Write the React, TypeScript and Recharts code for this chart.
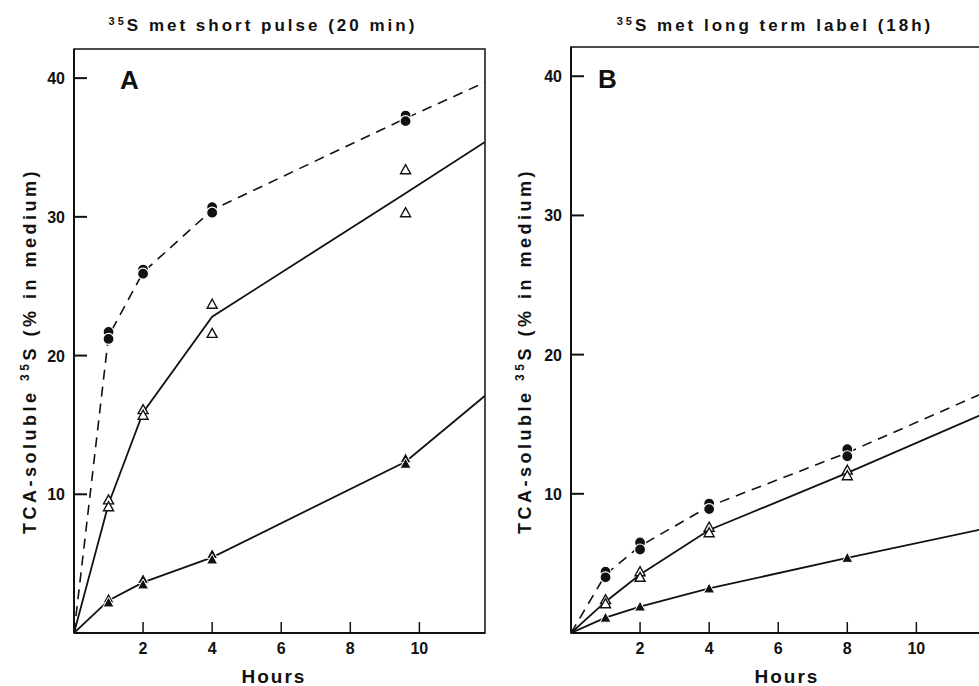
import React from "react";
import {
  ComposedChart,
  Line,
  Scatter,
  XAxis,
  YAxis,
  ReferenceArea,
} from "recharts";

// ---- panel A: short pulse (20 min) ----
const lineHoursA = [0, 1, 2, 4, 9.6, 11.9];
const fitCirclesA = [0, 21.4, 26.0, 30.5, 37.1, 39.7];
const fitOpenA = [0, 9.3, 15.9, 22.8, 31.7, 35.4];
const fitFilledA = [0, 2.35, 3.65, 5.45, 12.35, 17.1];

const sampleHoursA = [1, 2, 4, 9.6];
const circlesA1 = [21.7, 26.2, 30.7, 37.3];
const circlesA2 = [21.2, 25.9, 30.3, 36.9];
const openA1 = [9.6, 16.1, 23.7, 33.4];
const openA2 = [9.1, 15.7, 21.6, 30.3];
const filledA1 = [2.5, 3.9, 5.7, 12.6];
const filledA2 = [2.2, 3.5, 5.3, 12.2];

// ---- panel B: long term label (18h) ----
const lineHoursB = [0, 1, 2, 4, 8, 11.9];
const fitCirclesB = [0, 4.2, 6.25, 9.1, 12.95, 17.2];
const fitOpenB = [0, 2.25, 4.2, 7.4, 11.5, 15.7];
const fitFilledB = [0, 1.1, 1.9, 3.2, 5.4, 7.45];

const sampleHoursB = [1, 2, 4, 8];
const circlesB1 = [4.4, 6.5, 9.3, 13.2];
const circlesB2 = [4.0, 6.0, 8.9, 12.7];
const openB1 = [2.4, 4.4, 7.6, 11.7];
const openB2 = [2.1, 4.0, 7.2, 11.3];
const filledB1 = [1.1, 1.9, 3.2, 5.4];

const xTicks = [2, 4, 6, 8, 10];
const yTicks = [10, 20, 30, 40];
const xMax = 11.9;
const yMax = 42.1;

const INK = "#111";
const FONT = "'Liberation Sans', Arial, sans-serif";

const pts = (xs: number[], ys: number[]) => xs.map((x, i) => ({ x, y: ys[i] }));

const FilledCircle = (p: any) => (
  <circle cx={p.cx} cy={p.cy} r={5.5} fill={INK} stroke="#fff" strokeWidth={1.2} />
);
const OpenTriangle = (p: any) => (
  <polygon
    points={`${p.cx - 5},${p.cy + 4} ${p.cx + 5},${p.cy + 4} ${p.cx},${p.cy - 5}`}
    fill="#fff"
    stroke={INK}
    strokeWidth={1.4}
  />
);
const FilledTriangle = (p: any) => (
  <polygon
    points={`${p.cx - 5.5},${p.cy + 4.5} ${p.cx + 5.5},${p.cy + 4.5} ${p.cx},${p.cy - 5.5}`}
    fill={INK}
    stroke="#fff"
    strokeWidth={1}
  />
);
// inward tick mark on the y axis, drawn at (0, tick value)
const InwardTick = (p: any) => (
  <line x1={p.cx} x2={p.cx + 13} y1={p.cy} y2={p.cy} stroke={INK} strokeWidth={2} />
);

const YTick = (p: any) => (
  <text x={Number(p.x)} y={Number(p.y) + 6} textAnchor="end" fontSize={16} fontWeight={700} fontFamily={FONT} fill={INK}>
    {p.payload.value}
  </text>
);

const XTick = (p: any) => {
  const x = Number(p.x);
  const y = Number(p.y);
  return (
    <g>
      <line x1={x} x2={x} y1={y} y2={y - 11} stroke={INK} strokeWidth={1.5} />
      <text x={x} y={y + 21} textAnchor="middle" fontSize={16} fontWeight={700} fontFamily={FONT} fill={INK}>
        {p.payload.value}
      </text>
    </g>
  );
};

type PanelProps = {
  left: number;
  width: number;
  margin: { top: number; right: number; bottom: number; left: number };
  lineHours: number[];
  fitCircles: number[];
  fitOpen: number[];
  fitFilled: number[];
  circles: number[][];
  open: number[][];
  filled: number[][];
  sampleHours: number[];
};

function Panel(props: PanelProps) {
  const { lineHours, sampleHours } = props;
  return (
    <div style={{ position: "absolute", left: props.left, top: 0 }}>
      <ComposedChart width={props.width} height={686} margin={props.margin}>
        <XAxis
          type="number"
          dataKey="x"
          domain={[0, xMax]}
          ticks={xTicks}
          interval={0}
          allowDataOverflow
          height={30}
          tickSize={0}
          tickMargin={0}
          tickLine={false}
          tick={<XTick />}
          axisLine={{ stroke: INK, strokeWidth: 2 }}
        />
        <YAxis
          type="number"
          dataKey="y"
          domain={[0, yMax]}
          ticks={yTicks}
          interval={0}
          allowDataOverflow
          width={40}
          tickSize={0}
          tickMargin={9}
          tickLine={false}
          tick={<YTick />}
          axisLine={{ stroke: INK, strokeWidth: 2 }}
        />
        <ReferenceArea x1={0} x2={xMax} y1={0} y2={yMax} fill="none" stroke={INK} strokeWidth={1.5} />
        <Scatter data={yTicks.map((t) => ({ x: 0, y: t }))} shape={InwardTick} isAnimationActive={false} />
        <Line
          data={pts(lineHours, props.fitCircles)}
          dataKey="y"
          stroke={INK}
          strokeWidth={1.6}
          strokeDasharray="10 7"
          dot={false}
          isAnimationActive={false}
        />
        <Line
          data={pts(lineHours, props.fitOpen)}
          dataKey="y"
          stroke={INK}
          strokeWidth={1.8}
          dot={false}
          isAnimationActive={false}
        />
        <Line
          data={pts(lineHours, props.fitFilled)}
          dataKey="y"
          stroke={INK}
          strokeWidth={1.8}
          dot={false}
          isAnimationActive={false}
        />
        {props.circles.map((ys, i) => (
          <Scatter key={"c" + i} data={pts(sampleHours, ys)} shape={FilledCircle} isAnimationActive={false} />
        ))}
        {props.open.map((ys, i) => (
          <Scatter key={"o" + i} data={pts(sampleHours, ys)} shape={OpenTriangle} isAnimationActive={false} />
        ))}
        {props.filled.map((ys, i) => (
          <Scatter key={"f" + i} data={pts(sampleHours, ys)} shape={FilledTriangle} isAnimationActive={false} />
        ))}
      </ComposedChart>
    </div>
  );
}

const textStyle = { fontFamily: FONT, fontWeight: 700, fill: INK } as const;

export default function App() {
  return (
    <div style={{ position: "fixed", left: 0, top: 0, width: 979, height: 686, overflow: "hidden", background: "#fff" }}>
      <Panel
        left={0}
        width={490}
        margin={{ top: 49, right: 5, bottom: 23, left: 34 }}
        lineHours={lineHoursA}
        fitCircles={fitCirclesA}
        fitOpen={fitOpenA}
        fitFilled={fitFilledA}
        sampleHours={sampleHoursA}
        circles={[circlesA1, circlesA2]}
        open={[openA1, openA2]}
        filled={[filledA1, filledA2]}
      />
      <Panel
        left={490}
        width={500}
        margin={{ top: 47, right: 8, bottom: 23, left: 41 }}
        lineHours={lineHoursB}
        fitCircles={fitCirclesB}
        fitOpen={fitOpenB}
        fitFilled={fitFilledB}
        sampleHours={sampleHoursB}
        circles={[circlesB1, circlesB2]}
        open={[openB1, openB2]}
        filled={[filledB1]}
      />
      <svg width={979} height={686} style={{ position: "absolute", left: 0, top: 0, pointerEvents: "none" }}>
        <text x={263} y={31} textAnchor="middle" fontSize={17} letterSpacing={3} {...textStyle}>
          <tspan fontSize={11} dy={-6}>35</tspan>
          <tspan dy={6}>S met short pulse (20 min)</tspan>
        </text>
        <text x={775} y={31} textAnchor="middle" fontSize={17} letterSpacing={3} {...textStyle}>
          <tspan fontSize={11} dy={-6}>35</tspan>
          <tspan dy={6}>S met long term label (18h)</tspan>
        </text>
        <text x={120} y={89} fontSize={26} {...textStyle}>A</text>
        <text x={598} y={88} fontSize={26} {...textStyle}>B</text>
        <text x={274} y={683} textAnchor="middle" fontSize={19} letterSpacing={2} {...textStyle}>Hours</text>
        <text x={787} y={683} textAnchor="middle" fontSize={19} letterSpacing={2} {...textStyle}>Hours</text>
        <text transform="translate(36,351) rotate(-90)" textAnchor="middle" fontSize={18} letterSpacing={3.5} {...textStyle}>
          TCA-soluble <tspan fontSize={12} dy={-7}>35</tspan><tspan dy={7}>S (% in medium)</tspan>
        </text>
        <text transform="translate(531,351) rotate(-90)" textAnchor="middle" fontSize={18} letterSpacing={3.5} {...textStyle}>
          TCA-soluble <tspan fontSize={12} dy={-7}>35</tspan><tspan dy={7}>S (% in medium)</tspan>
        </text>
      </svg>
    </div>
  );
}
